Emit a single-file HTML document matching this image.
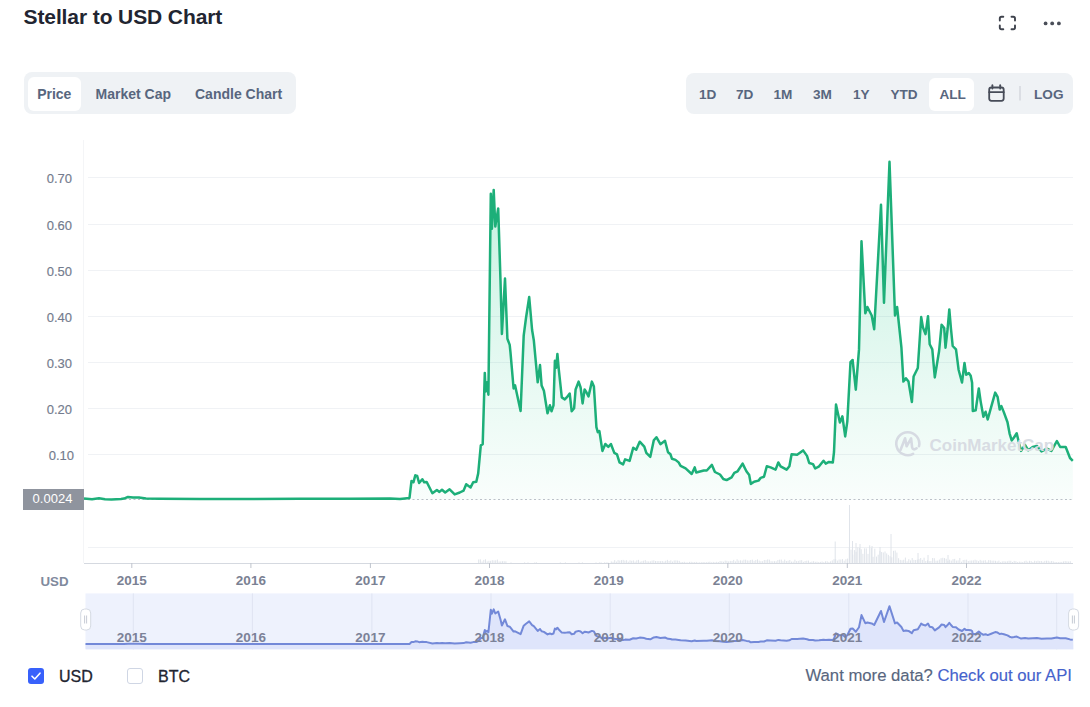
<!DOCTYPE html>
<html><head><meta charset="utf-8">
<style>
*{margin:0;padding:0;box-sizing:border-box}
html,body{width:1090px;height:707px;background:#fff;overflow:hidden;font-family:"Liberation Sans",sans-serif;position:relative}
.abs{position:absolute}
.title{position:absolute;left:23.5px;top:5px;font-size:21px;font-weight:bold;color:#222531;white-space:nowrap;letter-spacing:-0.1px}
.tabs{position:absolute;left:24px;top:72px;width:272px;height:42px;background:#eff2f5;border-radius:8px}
.tab{position:absolute;top:5px;height:34px;line-height:34px;font-size:14px;font-weight:bold;color:#58667e;white-space:nowrap}
.tab.on{background:#fff;border-radius:6px}
.rng{position:absolute;left:686px;top:73px;width:387px;height:41px;background:#eff2f5;border-radius:8px}
.rb{position:absolute;top:1px;height:41px;line-height:41px;font-size:13.6px;font-weight:bold;color:#58667e;white-space:nowrap}
.allb{position:absolute;left:243px;top:5px;width:45px;height:33px;background:#fff;border-radius:6px}
.yl{position:absolute;left:20px;width:52px;text-align:right;font-size:13px;color:#737b8d;line-height:19px;-webkit-text-stroke:0.15px #737b8d}
.xl{position:absolute;width:60px;text-align:center;font-size:13.5px;font-weight:bold;color:#7a8193;line-height:19px}
.nl{color:#7c8298}
.ptag{position:absolute;left:23px;top:489px;width:61px;height:21px;background:#8f949e;color:#fff;font-size:13px;line-height:20px;text-align:center;text-indent:-2px}
.usdax{position:absolute;left:40.5px;top:571.5px;font-size:13.3px;font-weight:bold;color:#808a9d;line-height:19px}
.wm{position:absolute;left:929.5px;top:435.5px;font-size:17px;font-weight:bold;color:#d8dce3;white-space:nowrap;line-height:20px}
.cb{position:absolute;top:668px;width:16px;height:16px;border-radius:3px}
.lbl{position:absolute;top:666.5px;font-size:16px;color:#222531;line-height:20px;-webkit-text-stroke:0.3px #222531}
.api{position:absolute;right:18px;top:666.2px;font-size:16.7px;color:#58667e;line-height:20px;white-space:nowrap;-webkit-text-stroke:0.15px #58667e}
.api span{color:#4562cc;-webkit-text-stroke:0.15px #4562cc}
svg{position:absolute;left:0;top:0}
</style></head><body>
<div class="title">Stellar to USD Chart</div>
<svg width="1090" height="707" viewBox="0 0 1090 707">
<g stroke="#3f434d" stroke-width="1.9" fill="none" stroke-linecap="round" stroke-linejoin="round">
<path d="M999.8,20.5 V18.5 Q999.8,16.8 1001.5,16.8 H1003.3 M1011.5,16.8 H1013.3 Q1015,16.8 1015,18.5 V20.5 M1015,25.5 V27.5 Q1015,29.3 1013.3,29.3 H1011.5 M1003.3,29.3 H1001.5 Q999.8,29.3 999.8,27.5 V25.5"/>
</g>
<g fill="#4a4e58"><circle cx="1045.6" cy="23.4" r="1.9"/><circle cx="1052.2" cy="23.4" r="1.9"/><circle cx="1058.9" cy="23.4" r="1.9"/></g>
</svg>
<div class="tabs">
  <div class="tab on" style="left:3.5px;width:53.5px;text-align:center">Price</div>
  <div class="tab" style="left:71.5px">Market Cap</div>
  <div class="tab" style="left:171px">Candle Chart</div>
</div>
<div class="rng">
  <div class="allb"></div>
  <div class="rb" style="left:13px">1D</div>
  <div class="rb" style="left:50px">7D</div>
  <div class="rb" style="left:87.5px">1M</div>
  <div class="rb" style="left:127px">3M</div>
  <div class="rb" style="left:167px">1Y</div>
  <div class="rb" style="left:204.5px">YTD</div>
  <div class="rb" style="left:253.5px">ALL</div>
  <div class="rb" style="left:348px">LOG</div>
</div>
<svg width="1090" height="707" viewBox="0 0 1090 707">
<g stroke="#474c58" stroke-width="1.8" fill="none" stroke-linecap="round"><rect x="989.2" y="87.5" width="14.5" height="13.3" rx="2.2"/><line x1="989.2" y1="92.2" x2="1003.7" y2="92.2"/><line x1="992.4" y1="85.2" x2="992.4" y2="88.5"/><line x1="1000.2" y1="85.2" x2="1000.2" y2="88.5"/></g>
<line x1="1020" y1="86" x2="1020" y2="100.5" stroke="#cdd1d8" stroke-width="1.2"/>
<defs>
<linearGradient id="ag" x1="0" y1="160" x2="0" y2="563" gradientUnits="userSpaceOnUse">
<stop offset="0" stop-color="#16c784" stop-opacity="0.26"/>
<stop offset="0.55" stop-color="#16c784" stop-opacity="0.10"/>
<stop offset="0.84" stop-color="#16c784" stop-opacity="0.025"/>
<stop offset="1" stop-color="#16c784" stop-opacity="0"/>
</linearGradient>
<clipPath id="pc"><rect x="84" y="130" width="990" height="370"/></clipPath><clipPath id="nc"><rect x="85.5" y="593.4" width="988" height="56"/></clipPath>
</defs>
<line x1="83.5" y1="140" x2="83.5" y2="563" stroke="#f4f5f7" stroke-width="1"/>
<g stroke="#f0f2f5" stroke-width="1"><line x1="88" y1="177.5" x2="1073" y2="177.5"/><line x1="88" y1="224.5" x2="1073" y2="224.5"/><line x1="88" y1="270.5" x2="1073" y2="270.5"/><line x1="88" y1="316.5" x2="1073" y2="316.5"/><line x1="88" y1="362.5" x2="1073" y2="362.5"/><line x1="88" y1="408.5" x2="1073" y2="408.5"/><line x1="88" y1="454.5" x2="1073" y2="454.5"/><line x1="88" y1="547.5" x2="1073" y2="547.5"/></g>
<g stroke="#dde1e8" stroke-width="0.9"><line x1="478.7" y1="563" x2="478.7" y2="559.5"/><line x1="480.4" y1="563" x2="480.4" y2="559.4"/><line x1="482.1" y1="563" x2="482.1" y2="561.5"/><line x1="483.8" y1="563" x2="483.8" y2="559.9"/><line x1="485.5" y1="563" x2="485.5" y2="559.3"/><line x1="487.2" y1="563" x2="487.2" y2="561.4"/><line x1="488.9" y1="563" x2="488.9" y2="560.8"/><line x1="490.6" y1="563" x2="490.6" y2="560.8"/><line x1="492.3" y1="563" x2="492.3" y2="560.2"/><line x1="494.0" y1="563" x2="494.0" y2="560.4"/><line x1="495.7" y1="563" x2="495.7" y2="560.3"/><line x1="497.4" y1="563" x2="497.4" y2="559.6"/><line x1="499.1" y1="563" x2="499.1" y2="561.5"/><line x1="500.8" y1="563" x2="500.8" y2="561.4"/><line x1="502.5" y1="563" x2="502.5" y2="561.2"/><line x1="504.2" y1="563" x2="504.2" y2="561.2"/><line x1="505.9" y1="563" x2="505.9" y2="561.3"/><line x1="511.0" y1="563" x2="511.0" y2="562.4"/><line x1="524.6" y1="563" x2="524.6" y2="562.4"/><line x1="528.0" y1="563" x2="528.0" y2="562.4"/><line x1="534.8" y1="563" x2="534.8" y2="562.4"/><line x1="536.5" y1="563" x2="536.5" y2="562.4"/><line x1="560.3" y1="563" x2="560.3" y2="562.4"/><line x1="565.4" y1="563" x2="565.4" y2="562.4"/><line x1="579.0" y1="563" x2="579.0" y2="562.4"/><line x1="582.4" y1="563" x2="582.4" y2="562.4"/><line x1="596.0" y1="563" x2="596.0" y2="562.4"/><line x1="599.4" y1="563" x2="599.4" y2="562.4"/><line x1="601.1" y1="563" x2="601.1" y2="562.4"/><line x1="604.5" y1="563" x2="604.5" y2="562.4"/><line x1="606.2" y1="563" x2="606.2" y2="562.4"/><line x1="607.9" y1="563" x2="607.9" y2="562.4"/><line x1="611.3" y1="563" x2="611.3" y2="561.4"/><line x1="613.0" y1="563" x2="613.0" y2="561.8"/><line x1="614.7" y1="563" x2="614.7" y2="560.1"/><line x1="616.4" y1="563" x2="616.4" y2="561.6"/><line x1="618.1" y1="563" x2="618.1" y2="560.1"/><line x1="619.8" y1="563" x2="619.8" y2="560.5"/><line x1="621.5" y1="563" x2="621.5" y2="560.1"/><line x1="623.2" y1="563" x2="623.2" y2="559.9"/><line x1="624.9" y1="563" x2="624.9" y2="560.6"/><line x1="626.6" y1="563" x2="626.6" y2="560.2"/><line x1="628.3" y1="563" x2="628.3" y2="561.7"/><line x1="630.0" y1="563" x2="630.0" y2="560.3"/><line x1="631.7" y1="563" x2="631.7" y2="560.8"/><line x1="633.4" y1="563" x2="633.4" y2="560.4"/><line x1="635.1" y1="563" x2="635.1" y2="561.6"/><line x1="636.8" y1="563" x2="636.8" y2="560.3"/><line x1="638.5" y1="563" x2="638.5" y2="559.9"/><line x1="640.2" y1="563" x2="640.2" y2="561.7"/><line x1="641.9" y1="563" x2="641.9" y2="561.2"/><line x1="643.6" y1="563" x2="643.6" y2="560.7"/><line x1="645.3" y1="563" x2="645.3" y2="560.1"/><line x1="647.0" y1="563" x2="647.0" y2="561.3"/><line x1="648.7" y1="563" x2="648.7" y2="561.4"/><line x1="650.4" y1="563" x2="650.4" y2="561.3"/><line x1="652.1" y1="563" x2="652.1" y2="560.6"/><line x1="653.8" y1="563" x2="653.8" y2="560.3"/><line x1="655.5" y1="563" x2="655.5" y2="561.0"/><line x1="657.2" y1="563" x2="657.2" y2="561.1"/><line x1="658.9" y1="563" x2="658.9" y2="561.0"/><line x1="660.6" y1="563" x2="660.6" y2="561.1"/><line x1="662.3" y1="563" x2="662.3" y2="561.0"/><line x1="664.0" y1="563" x2="664.0" y2="561.6"/><line x1="665.7" y1="563" x2="665.7" y2="560.8"/><line x1="667.4" y1="563" x2="667.4" y2="559.9"/><line x1="669.1" y1="563" x2="669.1" y2="561.0"/><line x1="670.8" y1="563" x2="670.8" y2="560.3"/><line x1="672.5" y1="563" x2="672.5" y2="561.5"/><line x1="674.2" y1="563" x2="674.2" y2="560.4"/><line x1="675.9" y1="563" x2="675.9" y2="560.3"/><line x1="677.6" y1="563" x2="677.6" y2="560.5"/><line x1="679.3" y1="563" x2="679.3" y2="560.8"/><line x1="681.0" y1="563" x2="681.0" y2="562.1"/><line x1="682.7" y1="563" x2="682.7" y2="562.0"/><line x1="684.4" y1="563" x2="684.4" y2="561.8"/><line x1="686.1" y1="563" x2="686.1" y2="562.4"/><line x1="687.8" y1="563" x2="687.8" y2="562.4"/><line x1="689.5" y1="563" x2="689.5" y2="561.9"/><line x1="691.2" y1="563" x2="691.2" y2="561.8"/><line x1="692.9" y1="563" x2="692.9" y2="562.1"/><line x1="694.6" y1="563" x2="694.6" y2="562.1"/><line x1="696.3" y1="563" x2="696.3" y2="561.9"/><line x1="698.0" y1="563" x2="698.0" y2="562.4"/><line x1="699.7" y1="563" x2="699.7" y2="562.3"/><line x1="701.4" y1="563" x2="701.4" y2="562.3"/><line x1="703.1" y1="563" x2="703.1" y2="562.0"/><line x1="704.8" y1="563" x2="704.8" y2="562.2"/><line x1="706.5" y1="563" x2="706.5" y2="562.3"/><line x1="708.2" y1="563" x2="708.2" y2="561.9"/><line x1="709.9" y1="563" x2="709.9" y2="561.7"/><line x1="711.6" y1="563" x2="711.6" y2="562.3"/><line x1="713.3" y1="563" x2="713.3" y2="561.9"/><line x1="715.0" y1="563" x2="715.0" y2="562.2"/><line x1="716.7" y1="563" x2="716.7" y2="561.8"/><line x1="718.4" y1="563" x2="718.4" y2="562.0"/><line x1="720.1" y1="563" x2="720.1" y2="561.1"/><line x1="721.8" y1="563" x2="721.8" y2="561.3"/><line x1="723.5" y1="563" x2="723.5" y2="561.7"/><line x1="725.2" y1="563" x2="725.2" y2="560.6"/><line x1="726.9" y1="563" x2="726.9" y2="560.8"/><line x1="728.6" y1="563" x2="728.6" y2="561.4"/><line x1="730.3" y1="563" x2="730.3" y2="560.9"/><line x1="732.0" y1="563" x2="732.0" y2="561.0"/><line x1="733.7" y1="563" x2="733.7" y2="559.9"/><line x1="735.4" y1="563" x2="735.4" y2="561.4"/><line x1="737.1" y1="563" x2="737.1" y2="559.3"/><line x1="738.8" y1="563" x2="738.8" y2="560.6"/><line x1="740.5" y1="563" x2="740.5" y2="560.3"/><line x1="742.2" y1="563" x2="742.2" y2="560.6"/><line x1="743.9" y1="563" x2="743.9" y2="559.7"/><line x1="745.6" y1="563" x2="745.6" y2="559.7"/><line x1="747.3" y1="563" x2="747.3" y2="560.4"/><line x1="749.0" y1="563" x2="749.0" y2="560.6"/><line x1="750.7" y1="563" x2="750.7" y2="560.0"/><line x1="752.4" y1="563" x2="752.4" y2="559.7"/><line x1="754.1" y1="563" x2="754.1" y2="560.8"/><line x1="755.8" y1="563" x2="755.8" y2="560.0"/><line x1="757.5" y1="563" x2="757.5" y2="559.4"/><line x1="759.2" y1="563" x2="759.2" y2="560.6"/><line x1="760.9" y1="563" x2="760.9" y2="561.2"/><line x1="762.6" y1="563" x2="762.6" y2="561.2"/><line x1="764.3" y1="563" x2="764.3" y2="560.0"/><line x1="766.0" y1="563" x2="766.0" y2="560.1"/><line x1="767.7" y1="563" x2="767.7" y2="559.4"/><line x1="769.4" y1="563" x2="769.4" y2="559.7"/><line x1="771.1" y1="563" x2="771.1" y2="561.2"/><line x1="772.8" y1="563" x2="772.8" y2="561.3"/><line x1="774.5" y1="563" x2="774.5" y2="561.2"/><line x1="776.2" y1="563" x2="776.2" y2="561.3"/><line x1="777.9" y1="563" x2="777.9" y2="560.0"/><line x1="779.6" y1="563" x2="779.6" y2="559.7"/><line x1="781.3" y1="563" x2="781.3" y2="559.6"/><line x1="783.0" y1="563" x2="783.0" y2="561.2"/><line x1="784.7" y1="563" x2="784.7" y2="559.6"/><line x1="786.4" y1="563" x2="786.4" y2="561.0"/><line x1="788.1" y1="563" x2="788.1" y2="560.7"/><line x1="789.8" y1="563" x2="789.8" y2="560.0"/><line x1="791.5" y1="563" x2="791.5" y2="561.6"/><line x1="793.2" y1="563" x2="793.2" y2="561.6"/><line x1="794.9" y1="563" x2="794.9" y2="559.7"/><line x1="796.6" y1="563" x2="796.6" y2="561.1"/><line x1="798.3" y1="563" x2="798.3" y2="560.9"/><line x1="800.0" y1="563" x2="800.0" y2="560.3"/><line x1="801.7" y1="563" x2="801.7" y2="560.1"/><line x1="803.4" y1="563" x2="803.4" y2="561.8"/><line x1="805.1" y1="563" x2="805.1" y2="561.0"/><line x1="806.8" y1="563" x2="806.8" y2="560.7"/><line x1="808.5" y1="563" x2="808.5" y2="560.6"/><line x1="810.2" y1="563" x2="810.2" y2="562.0"/><line x1="811.9" y1="563" x2="811.9" y2="561.6"/><line x1="813.6" y1="563" x2="813.6" y2="561.2"/><line x1="815.3" y1="563" x2="815.3" y2="561.8"/><line x1="817.0" y1="563" x2="817.0" y2="561.7"/><line x1="818.7" y1="563" x2="818.7" y2="562.1"/><line x1="820.4" y1="563" x2="820.4" y2="561.9"/><line x1="822.1" y1="563" x2="822.1" y2="561.5"/><line x1="823.8" y1="563" x2="823.8" y2="562.1"/><line x1="825.5" y1="563" x2="825.5" y2="561.3"/><line x1="827.2" y1="563" x2="827.2" y2="561.3"/><line x1="828.9" y1="563" x2="828.9" y2="562.1"/><line x1="830.6" y1="563" x2="830.6" y2="561.3"/><line x1="832.3" y1="563" x2="832.3" y2="560.4"/><line x1="834.0" y1="563" x2="834.0" y2="559.2"/><line x1="835.7" y1="563" x2="835.7" y2="559.2"/><line x1="837.4" y1="563" x2="837.4" y2="560.6"/><line x1="839.1" y1="563" x2="839.1" y2="559.5"/><line x1="840.8" y1="563" x2="840.8" y2="559.5"/><line x1="842.5" y1="563" x2="842.5" y2="559.1"/><line x1="844.2" y1="563" x2="844.2" y2="560.7"/><line x1="845.9" y1="563" x2="845.9" y2="559.2"/><line x1="847.6" y1="563" x2="847.6" y2="558.6"/><line x1="849.3" y1="563" x2="849.3" y2="547.9"/><line x1="851.0" y1="563" x2="851.0" y2="549.6"/><line x1="852.7" y1="563" x2="852.7" y2="554.6"/><line x1="854.4" y1="563" x2="854.4" y2="550.1"/><line x1="856.1" y1="563" x2="856.1" y2="551.8"/><line x1="857.8" y1="563" x2="857.8" y2="547.4"/><line x1="859.5" y1="563" x2="859.5" y2="547.9"/><line x1="861.2" y1="563" x2="861.2" y2="549.2"/><line x1="862.9" y1="563" x2="862.9" y2="553.8"/><line x1="864.6" y1="563" x2="864.6" y2="548.3"/><line x1="866.3" y1="563" x2="866.3" y2="548.4"/><line x1="868.0" y1="563" x2="868.0" y2="553.9"/><line x1="869.7" y1="563" x2="869.7" y2="545.3"/><line x1="871.4" y1="563" x2="871.4" y2="548.1"/><line x1="873.1" y1="563" x2="873.1" y2="556.8"/><line x1="874.8" y1="563" x2="874.8" y2="548.7"/><line x1="876.5" y1="563" x2="876.5" y2="556.6"/><line x1="878.2" y1="563" x2="878.2" y2="554.7"/><line x1="879.9" y1="563" x2="879.9" y2="550.8"/><line x1="881.6" y1="563" x2="881.6" y2="552.0"/><line x1="883.3" y1="563" x2="883.3" y2="552.5"/><line x1="885.0" y1="563" x2="885.0" y2="551.5"/><line x1="886.7" y1="563" x2="886.7" y2="553.4"/><line x1="888.4" y1="563" x2="888.4" y2="554.9"/><line x1="890.1" y1="563" x2="890.1" y2="556.2"/><line x1="891.8" y1="563" x2="891.8" y2="557.3"/><line x1="893.5" y1="563" x2="893.5" y2="550.8"/><line x1="895.2" y1="563" x2="895.2" y2="550.5"/><line x1="896.9" y1="563" x2="896.9" y2="552.6"/><line x1="898.6" y1="563" x2="898.6" y2="558.2"/><line x1="900.3" y1="563" x2="900.3" y2="559.9"/><line x1="902.0" y1="563" x2="902.0" y2="560.3"/><line x1="903.7" y1="563" x2="903.7" y2="559.8"/><line x1="905.4" y1="563" x2="905.4" y2="557.6"/><line x1="907.1" y1="563" x2="907.1" y2="561.3"/><line x1="908.8" y1="563" x2="908.8" y2="559.2"/><line x1="910.5" y1="563" x2="910.5" y2="560.4"/><line x1="912.2" y1="563" x2="912.2" y2="558.0"/><line x1="913.9" y1="563" x2="913.9" y2="559.9"/><line x1="915.6" y1="563" x2="915.6" y2="560.0"/><line x1="917.3" y1="563" x2="917.3" y2="559.7"/><line x1="919.0" y1="563" x2="919.0" y2="559.1"/><line x1="920.7" y1="563" x2="920.7" y2="558.0"/><line x1="922.4" y1="563" x2="922.4" y2="559.9"/><line x1="924.1" y1="563" x2="924.1" y2="557.7"/><line x1="925.8" y1="563" x2="925.8" y2="561.0"/><line x1="927.5" y1="563" x2="927.5" y2="560.3"/><line x1="929.2" y1="563" x2="929.2" y2="561.1"/><line x1="930.9" y1="563" x2="930.9" y2="561.0"/><line x1="932.6" y1="563" x2="932.6" y2="558.0"/><line x1="934.3" y1="563" x2="934.3" y2="558.2"/><line x1="936.0" y1="563" x2="936.0" y2="560.7"/><line x1="937.7" y1="563" x2="937.7" y2="560.6"/><line x1="939.4" y1="563" x2="939.4" y2="559.6"/><line x1="941.1" y1="563" x2="941.1" y2="558.2"/><line x1="942.8" y1="563" x2="942.8" y2="557.8"/><line x1="944.5" y1="563" x2="944.5" y2="558.1"/><line x1="946.2" y1="563" x2="946.2" y2="558.8"/><line x1="947.9" y1="563" x2="947.9" y2="560.8"/><line x1="949.6" y1="563" x2="949.6" y2="559.7"/><line x1="951.3" y1="563" x2="951.3" y2="560.6"/><line x1="953.0" y1="563" x2="953.0" y2="559.1"/><line x1="954.7" y1="563" x2="954.7" y2="558.9"/><line x1="956.4" y1="563" x2="956.4" y2="560.6"/><line x1="958.1" y1="563" x2="958.1" y2="560.4"/><line x1="959.8" y1="563" x2="959.8" y2="558.0"/><line x1="961.5" y1="563" x2="961.5" y2="561.7"/><line x1="963.2" y1="563" x2="963.2" y2="560.0"/><line x1="964.9" y1="563" x2="964.9" y2="559.8"/><line x1="966.6" y1="563" x2="966.6" y2="559.7"/><line x1="968.3" y1="563" x2="968.3" y2="561.0"/><line x1="970.0" y1="563" x2="970.0" y2="560.6"/><line x1="971.7" y1="563" x2="971.7" y2="560.5"/><line x1="973.4" y1="563" x2="973.4" y2="560.4"/><line x1="975.1" y1="563" x2="975.1" y2="559.7"/><line x1="976.8" y1="563" x2="976.8" y2="560.3"/><line x1="978.5" y1="563" x2="978.5" y2="561.1"/><line x1="980.2" y1="563" x2="980.2" y2="559.9"/><line x1="981.9" y1="563" x2="981.9" y2="560.7"/><line x1="983.6" y1="563" x2="983.6" y2="560.5"/><line x1="985.3" y1="563" x2="985.3" y2="560.2"/><line x1="987.0" y1="563" x2="987.0" y2="561.8"/><line x1="988.7" y1="563" x2="988.7" y2="560.1"/><line x1="990.4" y1="563" x2="990.4" y2="560.3"/><line x1="992.1" y1="563" x2="992.1" y2="560.7"/><line x1="993.8" y1="563" x2="993.8" y2="560.6"/><line x1="995.5" y1="563" x2="995.5" y2="560.8"/><line x1="997.2" y1="563" x2="997.2" y2="561.4"/><line x1="998.9" y1="563" x2="998.9" y2="560.6"/><line x1="1000.6" y1="563" x2="1000.6" y2="562.1"/><line x1="1002.3" y1="563" x2="1002.3" y2="561.4"/><line x1="1004.0" y1="563" x2="1004.0" y2="561.2"/><line x1="1005.7" y1="563" x2="1005.7" y2="561.5"/><line x1="1007.4" y1="563" x2="1007.4" y2="561.3"/><line x1="1009.1" y1="563" x2="1009.1" y2="560.7"/><line x1="1010.8" y1="563" x2="1010.8" y2="560.8"/><line x1="1012.5" y1="563" x2="1012.5" y2="562.0"/><line x1="1014.2" y1="563" x2="1014.2" y2="560.9"/><line x1="1015.9" y1="563" x2="1015.9" y2="561.2"/><line x1="1017.6" y1="563" x2="1017.6" y2="562.1"/><line x1="1019.3" y1="563" x2="1019.3" y2="561.6"/><line x1="1021.0" y1="563" x2="1021.0" y2="561.8"/><line x1="1022.7" y1="563" x2="1022.7" y2="562.1"/><line x1="1024.4" y1="563" x2="1024.4" y2="561.3"/><line x1="1026.1" y1="563" x2="1026.1" y2="560.7"/><line x1="1027.8" y1="563" x2="1027.8" y2="561.7"/><line x1="1029.5" y1="563" x2="1029.5" y2="560.8"/><line x1="1031.2" y1="563" x2="1031.2" y2="561.1"/><line x1="1032.9" y1="563" x2="1032.9" y2="562.0"/><line x1="1034.6" y1="563" x2="1034.6" y2="560.8"/><line x1="1036.3" y1="563" x2="1036.3" y2="561.2"/><line x1="1038.0" y1="563" x2="1038.0" y2="560.7"/><line x1="1039.7" y1="563" x2="1039.7" y2="561.1"/><line x1="1041.4" y1="563" x2="1041.4" y2="561.0"/><line x1="1043.1" y1="563" x2="1043.1" y2="561.7"/><line x1="1044.8" y1="563" x2="1044.8" y2="560.9"/><line x1="1046.5" y1="563" x2="1046.5" y2="560.7"/><line x1="1048.2" y1="563" x2="1048.2" y2="560.8"/><line x1="1049.9" y1="563" x2="1049.9" y2="561.5"/><line x1="1051.6" y1="563" x2="1051.6" y2="561.0"/><line x1="1053.3" y1="563" x2="1053.3" y2="561.4"/><line x1="1055.0" y1="563" x2="1055.0" y2="562.0"/><line x1="1056.7" y1="563" x2="1056.7" y2="562.1"/><line x1="1058.4" y1="563" x2="1058.4" y2="562.1"/><line x1="1060.1" y1="563" x2="1060.1" y2="561.9"/><line x1="1061.8" y1="563" x2="1061.8" y2="561.9"/><line x1="1063.5" y1="563" x2="1063.5" y2="561.4"/><line x1="1065.2" y1="563" x2="1065.2" y2="561.1"/><line x1="1066.9" y1="563" x2="1066.9" y2="561.3"/><line x1="1068.6" y1="563" x2="1068.6" y2="561.5"/><line x1="1070.3" y1="563" x2="1070.3" y2="561.2"/><line x1="835.2" y1="563" x2="835.2" y2="541.5"/><line x1="849.5" y1="563" x2="849.5" y2="505.0"/><line x1="852.5" y1="563" x2="852.5" y2="541.0"/><line x1="856.0" y1="563" x2="856.0" y2="543.0"/><line x1="860.0" y1="563" x2="860.0" y2="544.0"/><line x1="891.0" y1="563" x2="891.0" y2="534.0"/><line x1="872.0" y1="563" x2="872.0" y2="546.0"/><line x1="880.0" y1="563" x2="880.0" y2="547.0"/><line x1="928.0" y1="563" x2="928.0" y2="555.0"/><line x1="948.0" y1="563" x2="948.0" y2="555.0"/><line x1="918.0" y1="563" x2="918.0" y2="553.0"/></g>
<path d="M84.0,498.6 L92.0,499.3 L99.0,498.3 L105.0,499.3 L111.5,499.6 L121.0,499.1 L124.0,498.6 L128.0,496.9 L133.0,497.5 L139.0,497.6 L146.0,498.6 L160.0,498.8 L200.0,498.9 L250.0,498.9 L300.0,498.8 L350.0,498.7 L390.0,498.6 L400.0,498.9 L409.5,497.9 L411.5,481.0 L413.4,482.3 L415.3,475.3 L417.2,476.0 L419.1,483.0 L422.3,479.2 L424.2,482.3 L426.7,482.0 L432.4,493.2 L436.9,490.0 L439.4,491.9 L442.0,489.7 L445.2,492.5 L449.6,489.3 L454.7,494.4 L459.8,492.5 L463.6,490.6 L466.2,484.2 L470.6,487.4 L473.2,482.3 L476.3,481.7 L478.2,473.4 L480.8,445.4 L482.7,444.2 L484.8,372.9 L485.6,391.6 L487.1,382.3 L488.4,394.7 L490.8,193.7 L491.9,228.8 L493.7,189.9 L495.3,226.5 L498.2,208.4 L500.5,280.7 L501.9,334.0 L505.0,278.5 L507.4,338.7 L509.7,344.9 L510.5,352.7 L513.6,388.5 L515.1,385.4 L520.6,411.0 L523.7,335.6 L526.0,318.0 L529.2,297.0 L532.1,330.0 L533.8,340.2 L537.7,382.3 L540.0,365.1 L541.6,385.4 L543.9,390.8 L547.5,413.3 L549.9,405.3 L551.5,411.3 L553.5,405.3 L554.9,360.8 L556.2,367.7 L557.4,353.9 L558.8,369.7 L561.8,397.4 L564.8,399.4 L566.7,397.4 L569.7,393.5 L571.7,411.3 L574.1,408.3 L575.6,389.5 L578.6,381.6 L580.6,387.5 L582.6,403.4 L584.6,389.5 L586.5,392.5 L588.5,396.4 L591.9,381.6 L593.9,386.5 L596.4,427.1 L597.8,432.1 L599.4,431.1 L602.4,450.9 L605.3,444.0 L608.3,446.9 L610.9,444.0 L614.3,452.9 L617.0,454.3 L619.5,462.4 L623.1,464.4 L625.1,459.4 L629.6,460.9 L633.2,447.8 L636.2,449.8 L639.7,441.7 L644.3,446.7 L646.3,452.8 L650.3,456.8 L653.8,440.2 L656.4,437.2 L660.4,444.2 L665.0,440.7 L668.0,452.3 L670.5,454.3 L672.0,458.8 L675.5,459.9 L678.6,462.4 L680.6,465.9 L685.6,468.4 L691.7,474.0 L694.7,467.4 L696.2,472.5 L703.8,470.5 L706.8,470.5 L711.9,464.9 L714.9,472.0 L720.0,474.5 L723.3,479.0 L726.6,480.1 L731.6,477.3 L734.3,472.9 L737.6,471.3 L742.6,463.6 L746.4,471.3 L749.2,475.1 L750.8,483.9 L754.1,481.7 L758.5,480.6 L760.7,477.9 L764.0,476.8 L766.8,466.3 L770.6,467.4 L775.6,469.6 L778.3,462.5 L780.6,466.3 L786.6,469.6 L789.4,466.3 L791.6,454.2 L797.1,454.8 L803.1,450.4 L807.0,455.9 L809.2,463.0 L813.0,464.1 L815.2,468.5 L819.1,466.3 L823.5,460.8 L825.7,463.6 L829.0,461.9 L832.8,462.5 L834.0,452.0 L836.0,404.6 L839.9,422.6 L842.4,416.3 L845.2,436.4 L847.3,421.6 L850.5,362.1 L852.6,360.0 L855.8,389.7 L859.0,349.4 L861.5,241.2 L865.3,313.3 L867.4,307.0 L871.7,315.5 L874.2,329.3 L881.0,204.7 L884.0,302.7 L889.5,161.7 L895.0,315.5 L897.1,307.0 L901.4,347.3 L903.4,381.6 L905.9,378.2 L908.5,381.6 L911.9,402.0 L913.6,376.5 L917.8,368.0 L920.4,329.0 L921.2,317.1 L922.9,327.3 L925.5,334.1 L928.0,316.2 L929.7,344.3 L932.3,349.4 L934.8,377.4 L939.1,351.0 L941.6,324.7 L944.2,328.1 L945.5,347.7 L947.6,329.0 L949.3,309.4 L951.0,329.0 L952.7,346.0 L956.0,349.4 L958.6,369.7 L962.0,382.5 L964.5,362.9 L966.2,374.8 L968.8,373.1 L970.7,375.7 L972.1,382.7 L972.8,411.0 L975.7,410.3 L978.8,388.4 L980.6,401.1 L983.4,416.7 L985.6,411.7 L987.7,419.5 L991.2,406.8 L995.2,392.6 L997.6,396.9 L999.7,409.6 L1001.4,406.1 L1003.9,412.4 L1007.5,422.3 L1009.6,433.6 L1011.7,440.4 L1014.0,437.5 L1016.7,433.3 L1019.0,443.0 L1021.1,450.9 L1025.0,444.8 L1028.3,450.3 L1032.7,447.0 L1037.0,446.0 L1041.5,451.4 L1047.0,448.7 L1051.4,450.9 L1056.9,441.0 L1060.2,447.0 L1065.7,447.0 L1070.0,458.0 L1072.8,460.8 L1072.8,563 L84.0,563 Z" fill="url(#ag)" clip-path="url(#pc)"/>
<line x1="84" y1="499.5" x2="1073" y2="499.5" stroke="#bcc1c9" stroke-width="1" stroke-dasharray="2,2.5"/>
<g transform="translate(907.6,443.8)" fill="none" stroke="#d6dae2" stroke-width="2.6" stroke-linecap="round" stroke-linejoin="round"><path d="M11.4,2.5 A11.5,11.5 0 1 0 5.5,10.1"/><path d="M-7,6 L-2.5,-5.5 L-1,2.5 L3.5,-5.5 L4.5,3.5 Q5.5,7 9,4.5"/></g>
<path d="M84.0,498.6 L92.0,499.3 L99.0,498.3 L105.0,499.3 L111.5,499.6 L121.0,499.1 L124.0,498.6 L128.0,496.9 L133.0,497.5 L139.0,497.6 L146.0,498.6 L160.0,498.8 L200.0,498.9 L250.0,498.9 L300.0,498.8 L350.0,498.7 L390.0,498.6 L400.0,498.9 L409.5,497.9 L411.5,481.0 L413.4,482.3 L415.3,475.3 L417.2,476.0 L419.1,483.0 L422.3,479.2 L424.2,482.3 L426.7,482.0 L432.4,493.2 L436.9,490.0 L439.4,491.9 L442.0,489.7 L445.2,492.5 L449.6,489.3 L454.7,494.4 L459.8,492.5 L463.6,490.6 L466.2,484.2 L470.6,487.4 L473.2,482.3 L476.3,481.7 L478.2,473.4 L480.8,445.4 L482.7,444.2 L484.8,372.9 L485.6,391.6 L487.1,382.3 L488.4,394.7 L490.8,193.7 L491.9,228.8 L493.7,189.9 L495.3,226.5 L498.2,208.4 L500.5,280.7 L501.9,334.0 L505.0,278.5 L507.4,338.7 L509.7,344.9 L510.5,352.7 L513.6,388.5 L515.1,385.4 L520.6,411.0 L523.7,335.6 L526.0,318.0 L529.2,297.0 L532.1,330.0 L533.8,340.2 L537.7,382.3 L540.0,365.1 L541.6,385.4 L543.9,390.8 L547.5,413.3 L549.9,405.3 L551.5,411.3 L553.5,405.3 L554.9,360.8 L556.2,367.7 L557.4,353.9 L558.8,369.7 L561.8,397.4 L564.8,399.4 L566.7,397.4 L569.7,393.5 L571.7,411.3 L574.1,408.3 L575.6,389.5 L578.6,381.6 L580.6,387.5 L582.6,403.4 L584.6,389.5 L586.5,392.5 L588.5,396.4 L591.9,381.6 L593.9,386.5 L596.4,427.1 L597.8,432.1 L599.4,431.1 L602.4,450.9 L605.3,444.0 L608.3,446.9 L610.9,444.0 L614.3,452.9 L617.0,454.3 L619.5,462.4 L623.1,464.4 L625.1,459.4 L629.6,460.9 L633.2,447.8 L636.2,449.8 L639.7,441.7 L644.3,446.7 L646.3,452.8 L650.3,456.8 L653.8,440.2 L656.4,437.2 L660.4,444.2 L665.0,440.7 L668.0,452.3 L670.5,454.3 L672.0,458.8 L675.5,459.9 L678.6,462.4 L680.6,465.9 L685.6,468.4 L691.7,474.0 L694.7,467.4 L696.2,472.5 L703.8,470.5 L706.8,470.5 L711.9,464.9 L714.9,472.0 L720.0,474.5 L723.3,479.0 L726.6,480.1 L731.6,477.3 L734.3,472.9 L737.6,471.3 L742.6,463.6 L746.4,471.3 L749.2,475.1 L750.8,483.9 L754.1,481.7 L758.5,480.6 L760.7,477.9 L764.0,476.8 L766.8,466.3 L770.6,467.4 L775.6,469.6 L778.3,462.5 L780.6,466.3 L786.6,469.6 L789.4,466.3 L791.6,454.2 L797.1,454.8 L803.1,450.4 L807.0,455.9 L809.2,463.0 L813.0,464.1 L815.2,468.5 L819.1,466.3 L823.5,460.8 L825.7,463.6 L829.0,461.9 L832.8,462.5 L834.0,452.0 L836.0,404.6 L839.9,422.6 L842.4,416.3 L845.2,436.4 L847.3,421.6 L850.5,362.1 L852.6,360.0 L855.8,389.7 L859.0,349.4 L861.5,241.2 L865.3,313.3 L867.4,307.0 L871.7,315.5 L874.2,329.3 L881.0,204.7 L884.0,302.7 L889.5,161.7 L895.0,315.5 L897.1,307.0 L901.4,347.3 L903.4,381.6 L905.9,378.2 L908.5,381.6 L911.9,402.0 L913.6,376.5 L917.8,368.0 L920.4,329.0 L921.2,317.1 L922.9,327.3 L925.5,334.1 L928.0,316.2 L929.7,344.3 L932.3,349.4 L934.8,377.4 L939.1,351.0 L941.6,324.7 L944.2,328.1 L945.5,347.7 L947.6,329.0 L949.3,309.4 L951.0,329.0 L952.7,346.0 L956.0,349.4 L958.6,369.7 L962.0,382.5 L964.5,362.9 L966.2,374.8 L968.8,373.1 L970.7,375.7 L972.1,382.7 L972.8,411.0 L975.7,410.3 L978.8,388.4 L980.6,401.1 L983.4,416.7 L985.6,411.7 L987.7,419.5 L991.2,406.8 L995.2,392.6 L997.6,396.9 L999.7,409.6 L1001.4,406.1 L1003.9,412.4 L1007.5,422.3 L1009.6,433.6 L1011.7,440.4 L1014.0,437.5 L1016.7,433.3 L1019.0,443.0 L1021.1,450.9 L1025.0,444.8 L1028.3,450.3 L1032.7,447.0 L1037.0,446.0 L1041.5,451.4 L1047.0,448.7 L1051.4,450.9 L1056.9,441.0 L1060.2,447.0 L1065.7,447.0 L1070.0,458.0 L1072.8,460.8" fill="none" stroke="#1daf79" stroke-width="2.5" stroke-linejoin="round"/>
<line x1="84" y1="563.5" x2="1073" y2="563.5" stroke="#d5d9e0" stroke-width="1"/>
<g stroke="#bfc4cd" stroke-width="1"><line x1="131.8" y1="563" x2="131.8" y2="568"/><line x1="250.9" y1="563" x2="250.9" y2="568"/><line x1="370.4" y1="563" x2="370.4" y2="568"/><line x1="489.5" y1="563" x2="489.5" y2="568"/><line x1="608.7" y1="563" x2="608.7" y2="568"/><line x1="727.8" y1="563" x2="727.8" y2="568"/><line x1="847.3" y1="563" x2="847.3" y2="568"/><line x1="966.5" y1="563" x2="966.5" y2="568"/></g>
<rect x="85.5" y="593.4" width="988" height="56" fill="#eef2fd"/>
<g stroke="#dfe4f2" stroke-width="1"><line x1="133.3" y1="593.4" x2="133.3" y2="649.4"/><line x1="252.4" y1="593.4" x2="252.4" y2="649.4"/><line x1="371.9" y1="593.4" x2="371.9" y2="649.4"/><line x1="491.0" y1="593.4" x2="491.0" y2="649.4"/><line x1="610.2" y1="593.4" x2="610.2" y2="649.4"/><line x1="729.3" y1="593.4" x2="729.3" y2="649.4"/><line x1="848.8" y1="593.4" x2="848.8" y2="649.4"/><line x1="968.0" y1="593.4" x2="968.0" y2="649.4"/><line x1="1056.7" y1="593.4" x2="1056.7" y2="649.4"/></g>
<g clip-path="url(#nc)"><path d="M84.0,644.0 L92.0,644.0 L99.0,643.9 L105.0,644.0 L111.5,644.1 L121.0,644.0 L124.0,644.0 L128.0,643.8 L133.0,643.8 L139.0,643.8 L146.0,644.0 L160.0,644.0 L200.0,644.0 L250.0,644.0 L300.0,644.0 L350.0,644.0 L390.0,644.0 L400.0,644.0 L409.5,643.9 L411.5,642.0 L413.4,642.1 L415.3,641.3 L417.2,641.4 L419.1,642.2 L422.3,641.8 L424.2,642.1 L426.7,642.1 L432.4,643.4 L436.9,643.0 L439.4,643.2 L442.0,643.0 L445.2,643.3 L449.6,642.9 L454.7,643.5 L459.8,643.3 L463.6,643.1 L466.2,642.3 L470.6,642.7 L473.2,642.1 L476.3,642.1 L478.2,641.1 L480.8,638.0 L482.7,637.9 L484.8,629.9 L485.6,632.0 L487.1,630.9 L488.4,632.3 L490.8,609.8 L491.9,613.7 L493.7,609.4 L495.3,613.5 L498.2,611.5 L500.5,619.6 L501.9,625.5 L505.0,619.3 L507.4,626.0 L509.7,626.7 L510.5,627.6 L513.6,631.6 L515.1,631.3 L520.6,634.1 L523.7,625.7 L526.0,623.7 L529.2,621.4 L532.1,625.1 L533.8,626.2 L537.7,630.9 L540.0,629.0 L541.6,631.3 L543.9,631.9 L547.5,634.4 L549.9,633.5 L551.5,634.2 L553.5,633.5 L554.9,628.5 L556.2,629.3 L557.4,627.7 L558.8,629.5 L561.8,632.6 L564.8,632.8 L566.7,632.6 L569.7,632.2 L571.7,634.2 L574.1,633.8 L575.6,631.7 L578.6,630.9 L580.6,631.5 L582.6,633.3 L584.6,631.7 L586.5,632.1 L588.5,632.5 L591.9,630.9 L593.9,631.4 L596.4,635.9 L597.8,636.5 L599.4,636.4 L602.4,638.6 L605.3,637.8 L608.3,638.2 L610.9,637.8 L614.3,638.8 L617.0,639.0 L619.5,639.9 L623.1,640.1 L625.1,639.6 L629.6,639.7 L633.2,638.3 L636.2,638.5 L639.7,637.6 L644.3,638.1 L646.3,638.8 L650.3,639.3 L653.8,637.4 L656.4,637.1 L660.4,637.9 L665.0,637.5 L668.0,638.8 L670.5,639.0 L672.0,639.5 L675.5,639.6 L678.6,639.9 L680.6,640.3 L685.6,640.6 L691.7,641.2 L694.7,640.5 L696.2,641.0 L703.8,640.8 L706.8,640.8 L711.9,640.2 L714.9,641.0 L720.0,641.3 L723.3,641.8 L726.6,641.9 L731.6,641.6 L734.3,641.1 L737.6,640.9 L742.6,640.0 L746.4,640.9 L749.2,641.3 L750.8,642.3 L754.1,642.1 L758.5,641.9 L760.7,641.6 L764.0,641.5 L766.8,640.3 L770.6,640.5 L775.6,640.7 L778.3,639.9 L780.6,640.3 L786.6,640.7 L789.4,640.3 L791.6,639.0 L797.1,639.0 L803.1,638.6 L807.0,639.2 L809.2,640.0 L813.0,640.1 L815.2,640.6 L819.1,640.3 L823.5,639.7 L825.7,640.0 L829.0,639.8 L832.8,639.9 L834.0,638.7 L836.0,633.4 L839.9,635.4 L842.4,634.7 L845.2,637.0 L847.3,635.3 L850.5,628.7 L852.6,628.4 L855.8,631.8 L859.0,627.2 L861.5,615.1 L865.3,623.2 L867.4,622.5 L871.7,623.4 L874.2,625.0 L881.0,611.0 L884.0,622.0 L889.5,606.2 L895.0,623.4 L897.1,622.5 L901.4,627.0 L903.4,630.9 L905.9,630.5 L908.5,630.9 L911.9,633.1 L913.6,630.3 L917.8,629.3 L920.4,625.0 L921.2,623.6 L922.9,624.8 L925.5,625.5 L928.0,623.5 L929.7,626.7 L932.3,627.2 L934.8,630.4 L939.1,627.4 L941.6,624.5 L944.2,624.9 L945.5,627.1 L947.6,625.0 L949.3,622.8 L951.0,625.0 L952.7,626.9 L956.0,627.2 L958.6,629.5 L962.0,631.0 L964.5,628.8 L966.2,630.1 L968.8,629.9 L970.7,630.2 L972.1,631.0 L972.8,634.1 L975.7,634.1 L978.8,631.6 L980.6,633.0 L983.4,634.8 L985.6,634.2 L987.7,635.1 L991.2,633.7 L995.2,632.1 L997.6,632.6 L999.7,634.0 L1001.4,633.6 L1003.9,634.3 L1007.5,635.4 L1009.6,636.7 L1011.7,637.4 L1014.0,637.1 L1016.7,636.6 L1019.0,637.7 L1021.1,638.6 L1025.0,637.9 L1028.3,638.5 L1032.7,638.2 L1037.0,638.1 L1041.5,638.7 L1047.0,638.4 L1051.4,638.6 L1056.9,637.5 L1060.2,638.2 L1065.7,638.2 L1070.0,639.4 L1072.8,639.7 L1073.4,649.4 L85.5,649.4 Z" fill="#dfe5fb"/>
<path d="M84.0,644.0 L92.0,644.0 L99.0,643.9 L105.0,644.0 L111.5,644.1 L121.0,644.0 L124.0,644.0 L128.0,643.8 L133.0,643.8 L139.0,643.8 L146.0,644.0 L160.0,644.0 L200.0,644.0 L250.0,644.0 L300.0,644.0 L350.0,644.0 L390.0,644.0 L400.0,644.0 L409.5,643.9 L411.5,642.0 L413.4,642.1 L415.3,641.3 L417.2,641.4 L419.1,642.2 L422.3,641.8 L424.2,642.1 L426.7,642.1 L432.4,643.4 L436.9,643.0 L439.4,643.2 L442.0,643.0 L445.2,643.3 L449.6,642.9 L454.7,643.5 L459.8,643.3 L463.6,643.1 L466.2,642.3 L470.6,642.7 L473.2,642.1 L476.3,642.1 L478.2,641.1 L480.8,638.0 L482.7,637.9 L484.8,629.9 L485.6,632.0 L487.1,630.9 L488.4,632.3 L490.8,609.8 L491.9,613.7 L493.7,609.4 L495.3,613.5 L498.2,611.5 L500.5,619.6 L501.9,625.5 L505.0,619.3 L507.4,626.0 L509.7,626.7 L510.5,627.6 L513.6,631.6 L515.1,631.3 L520.6,634.1 L523.7,625.7 L526.0,623.7 L529.2,621.4 L532.1,625.1 L533.8,626.2 L537.7,630.9 L540.0,629.0 L541.6,631.3 L543.9,631.9 L547.5,634.4 L549.9,633.5 L551.5,634.2 L553.5,633.5 L554.9,628.5 L556.2,629.3 L557.4,627.7 L558.8,629.5 L561.8,632.6 L564.8,632.8 L566.7,632.6 L569.7,632.2 L571.7,634.2 L574.1,633.8 L575.6,631.7 L578.6,630.9 L580.6,631.5 L582.6,633.3 L584.6,631.7 L586.5,632.1 L588.5,632.5 L591.9,630.9 L593.9,631.4 L596.4,635.9 L597.8,636.5 L599.4,636.4 L602.4,638.6 L605.3,637.8 L608.3,638.2 L610.9,637.8 L614.3,638.8 L617.0,639.0 L619.5,639.9 L623.1,640.1 L625.1,639.6 L629.6,639.7 L633.2,638.3 L636.2,638.5 L639.7,637.6 L644.3,638.1 L646.3,638.8 L650.3,639.3 L653.8,637.4 L656.4,637.1 L660.4,637.9 L665.0,637.5 L668.0,638.8 L670.5,639.0 L672.0,639.5 L675.5,639.6 L678.6,639.9 L680.6,640.3 L685.6,640.6 L691.7,641.2 L694.7,640.5 L696.2,641.0 L703.8,640.8 L706.8,640.8 L711.9,640.2 L714.9,641.0 L720.0,641.3 L723.3,641.8 L726.6,641.9 L731.6,641.6 L734.3,641.1 L737.6,640.9 L742.6,640.0 L746.4,640.9 L749.2,641.3 L750.8,642.3 L754.1,642.1 L758.5,641.9 L760.7,641.6 L764.0,641.5 L766.8,640.3 L770.6,640.5 L775.6,640.7 L778.3,639.9 L780.6,640.3 L786.6,640.7 L789.4,640.3 L791.6,639.0 L797.1,639.0 L803.1,638.6 L807.0,639.2 L809.2,640.0 L813.0,640.1 L815.2,640.6 L819.1,640.3 L823.5,639.7 L825.7,640.0 L829.0,639.8 L832.8,639.9 L834.0,638.7 L836.0,633.4 L839.9,635.4 L842.4,634.7 L845.2,637.0 L847.3,635.3 L850.5,628.7 L852.6,628.4 L855.8,631.8 L859.0,627.2 L861.5,615.1 L865.3,623.2 L867.4,622.5 L871.7,623.4 L874.2,625.0 L881.0,611.0 L884.0,622.0 L889.5,606.2 L895.0,623.4 L897.1,622.5 L901.4,627.0 L903.4,630.9 L905.9,630.5 L908.5,630.9 L911.9,633.1 L913.6,630.3 L917.8,629.3 L920.4,625.0 L921.2,623.6 L922.9,624.8 L925.5,625.5 L928.0,623.5 L929.7,626.7 L932.3,627.2 L934.8,630.4 L939.1,627.4 L941.6,624.5 L944.2,624.9 L945.5,627.1 L947.6,625.0 L949.3,622.8 L951.0,625.0 L952.7,626.9 L956.0,627.2 L958.6,629.5 L962.0,631.0 L964.5,628.8 L966.2,630.1 L968.8,629.9 L970.7,630.2 L972.1,631.0 L972.8,634.1 L975.7,634.1 L978.8,631.6 L980.6,633.0 L983.4,634.8 L985.6,634.2 L987.7,635.1 L991.2,633.7 L995.2,632.1 L997.6,632.6 L999.7,634.0 L1001.4,633.6 L1003.9,634.3 L1007.5,635.4 L1009.6,636.7 L1011.7,637.4 L1014.0,637.1 L1016.7,636.6 L1019.0,637.7 L1021.1,638.6 L1025.0,637.9 L1028.3,638.5 L1032.7,638.2 L1037.0,638.1 L1041.5,638.7 L1047.0,638.4 L1051.4,638.6 L1056.9,637.5 L1060.2,638.2 L1065.7,638.2 L1070.0,639.4 L1072.8,639.7" fill="none" stroke="#7389d8" stroke-width="2" stroke-linejoin="round"/></g>
<g fill="#fff" stroke="#d5dae3" stroke-width="1"><rect x="80.7" y="609" width="10" height="21" rx="4"/><rect x="1068.6" y="609" width="10" height="21" rx="4"/></g>
<g stroke="#b8bec9" stroke-width="0.8"><line x1="84.6" y1="615.5" x2="84.6" y2="623.5"/><line x1="86.6" y1="615.5" x2="86.6" y2="623.5"/><line x1="1072.4" y1="615.5" x2="1072.4" y2="623.5"/><line x1="1074.4" y1="615.5" x2="1074.4" y2="623.5"/></g>
</svg>
<div class="wm">CoinMarketCap</div>
<div class="yl" style="top:168.5px;left:20px">0.70</div><div class="yl" style="top:215.5px;left:20px">0.60</div><div class="yl" style="top:261.5px;left:20px">0.50</div><div class="yl" style="top:307.5px;left:20px">0.40</div><div class="yl" style="top:353.5px;left:20px">0.30</div><div class="yl" style="top:399.5px;left:20px">0.20</div><div class="yl" style="top:445.5px;left:22px">0.10</div>
<div class="ptag">0.0024</div>
<div class="usdax">USD</div>
<div class="xl" style="left:101.8px;top:571px">2015</div><div class="xl" style="left:220.9px;top:571px">2016</div><div class="xl" style="left:340.4px;top:571px">2017</div><div class="xl" style="left:459.5px;top:571px">2018</div><div class="xl" style="left:578.7px;top:571px">2019</div><div class="xl" style="left:697.8px;top:571px">2020</div><div class="xl" style="left:817.3px;top:571px">2021</div><div class="xl" style="left:936.5px;top:571px">2022</div>
<div class="xl nl" style="left:101.8px;top:627.5px">2015</div><div class="xl nl" style="left:220.9px;top:627.5px">2016</div><div class="xl nl" style="left:340.4px;top:627.5px">2017</div><div class="xl nl" style="left:459.5px;top:627.5px">2018</div><div class="xl nl" style="left:578.7px;top:627.5px">2019</div><div class="xl nl" style="left:697.8px;top:627.5px">2020</div><div class="xl nl" style="left:817.3px;top:627.5px">2021</div><div class="xl nl" style="left:936.5px;top:627.5px">2022</div>
<div class="cb" style="left:28px;background:#3861fb"><svg width="16" height="16" viewBox="0 0 16 16" style="position:absolute;left:0;top:0"><path d="M4,8.2 L6.8,11 L12,5.2" fill="none" stroke="#fff" stroke-width="1.6" stroke-linecap="round" stroke-linejoin="round"/></svg></div>
<div class="lbl" style="left:59px">USD</div>
<div class="cb" style="left:127px;border:1px solid #cfd6e4;background:#fff"></div>
<div class="lbl" style="left:158px">BTC</div>
<div class="api">Want more data? <span>Check out our API</span></div>
</body></html>
